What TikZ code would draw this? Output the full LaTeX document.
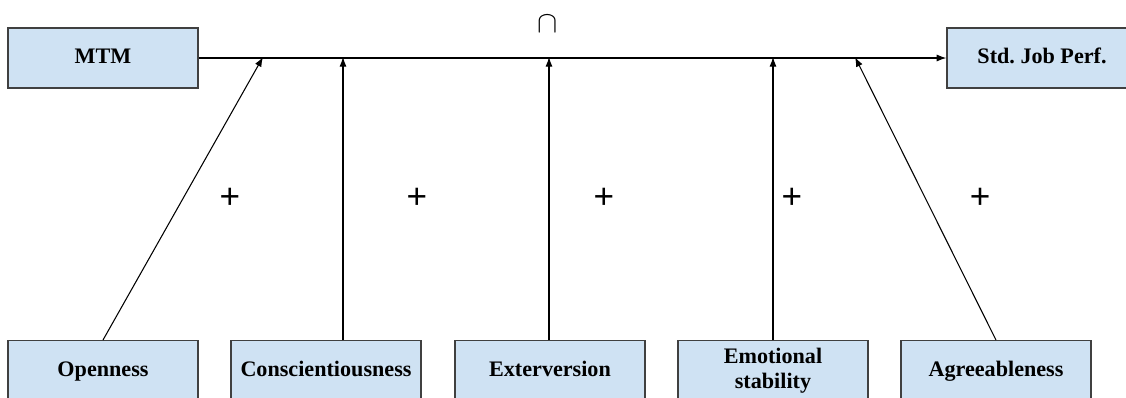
\documentclass[tikz,border=0pt]{standalone}
\usepackage{fontspec}
\setmainfont{Liberation Serif}
\setsansfont{Liberation Sans}
\usetikzlibrary{arrows.meta}
\definecolor{boxblue}{RGB}{207,226,243}
\tikzset{%
  factor/.style = {shape=rectangle, draw=black!75, fill=boxblue,%
                   line width=0.8pt, align=center,%
                   minimum width=3.8cm, minimum height=1.2cm,%
                   font=\fontsize{12.6}{14.2}\selectfont\bfseries},%
  oneline/.style = {factor, text height=0.66em, text depth=0pt},%
  trait/.style  = {oneline, anchor=north},%
  sign/.style   = {font=\sffamily\fontsize{20}{22}\selectfont},%
  link/.style   = {-{Latex[length=5.5pt,width=4pt]}, line width=0.6pt}%
}
\begin{document}
\begin{tikzpicture}[x=0.02cm,y=-0.02cm]
	\useasboundingbox (0,0) rectangle (1126,397);
	\clip (0,0) rectangle (1126,397);
	% outcome row
	\node [oneline] (mtm) at (103,58) {MTM};
	\node [oneline] (perf) at (1042,58) {Std.\ Job Perf.};
	\draw [link] (mtm.east) -- (perf.west);
	\node [font=\fontsize{18}{18}\selectfont] (cap) at (548,24) {$\cap$};
	% moderators
	\node [trait] (open) at (103,340) {Openness};
	\node [trait] (cons) at (326,340) {Conscientiousness};
	\node [trait] (extr) at (550,340) {Exterversion};
	\node [factor, anchor=north] (emst) at (773,340) {Emotional\\stability};
	\node [trait] (agre) at (996,340) {Agreeableness};
	\coordinate (m1) at (263,57);
	\coordinate (m2) at (343,57);
	\coordinate (m3) at (549,57);
	\coordinate (m4) at (773,57);
	\coordinate (m5) at (855,57);
	\draw [link] (open.north) -- (m1);
	\draw [link] (cons.north -| m2) -- (m2);
	\draw [link] (extr.north -| m3) -- (m3);
	\draw [link] (emst.north -| m4) -- (m4);
	\draw [link] (agre.north) -- (m5);
	\foreach \x/\n in {230/p1,417/p2,604/p3,792/p4,980/p5}
		\node [sign] (\n) at (\x,198) {+};
\end{tikzpicture}
\end{document}
